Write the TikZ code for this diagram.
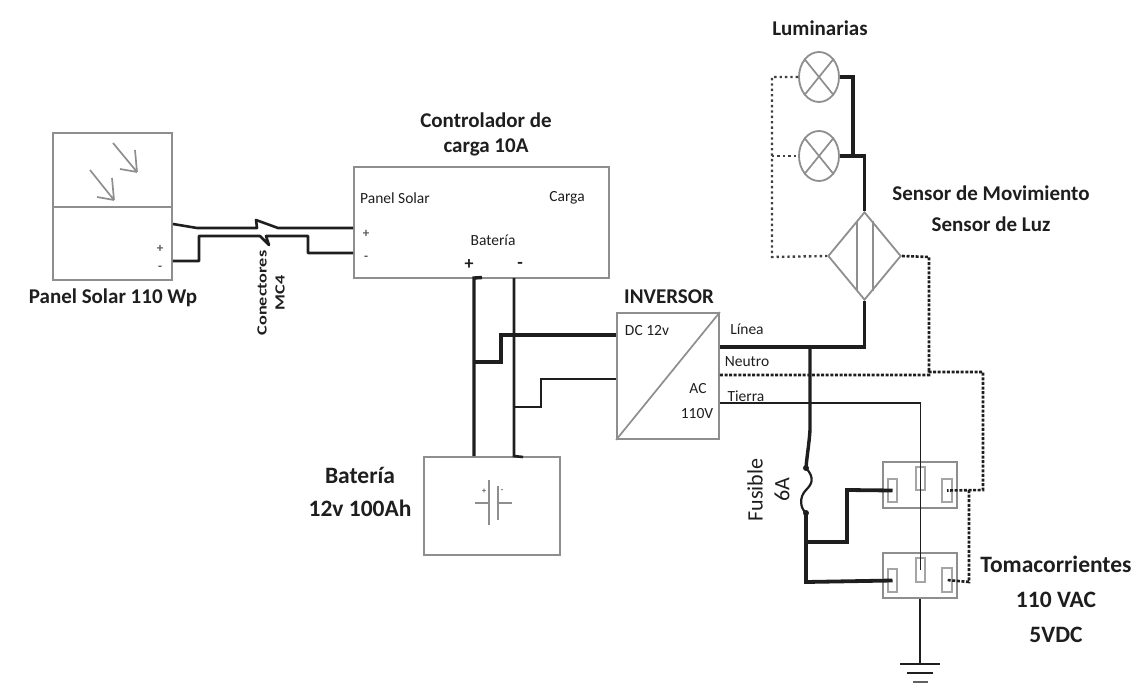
\documentclass[tikz,border=0pt]{standalone}
\usepackage{fontspec}
\usetikzlibrary{shapes.geometric}
\setmainfont{Carlito}
\definecolor{boxgray}{HTML}{8E8E8E}
\definecolor{ink}{HTML}{1E1E1E}
\tikzset{
  box/.style={draw=boxgray,line width=1.8pt,rectangle,inner sep=0pt,fill=none},
  pin/.style={draw=boxgray!80,line width=1.4pt,rectangle,inner sep=0pt},
  lamp/.style={draw=boxgray,line width=1.8pt,ellipse,inner sep=0pt,minimum width=40pt,minimum height=50pt},
  thin wire/.style={draw=ink,line width=1.9pt},
  mid wire/.style={draw=ink,line width=2.6pt},
  thick wire/.style={draw=ink,line width=3.8pt},
  dot wire/.style={draw=ink!85,line width=2.4pt,dash pattern=on 2.4pt off 3pt},
  dash wire/.style={draw=ink,line width=2.6pt,dash pattern=on 3pt off 1.6pt},
  grayline/.style={draw=boxgray,line width=1.7pt},
  title/.style={font=\bfseries\fontsize{21}{25}\selectfont,text=ink,align=center,inner sep=0pt},
  big title/.style={font=\bfseries\fontsize{23.5}{27}\selectfont,text=ink,align=center,inner sep=0pt},
  small/.style={font=\fontsize{15.5}{18}\selectfont,text=ink,inner sep=0pt,align=center},
  tiny/.style={font=\bfseries\fontsize{13}{15}\selectfont,text=ink!75,inner sep=0pt},
}
\begin{document}
\begin{tikzpicture}[x=1pt,y=-1pt]
\useasboundingbox (0,0) rectangle (1140,695);
% boxes
\node[box,minimum width=119pt,minimum height=147pt] (panel) at (112.5,206.5) {};
\coordinate (panelL) at (panel.west |- 0,207);
\draw[grayline,line width=1.8pt] (panelL) -- (panelL -| panel.east);
\node[box,minimum width=255pt,minimum height=111pt] (ctrl) at (481.5,222.5) {};
\node[box,minimum width=102pt,minimum height=126pt] (inv) at (668,376) {};
\draw[grayline] (inv.south west) -- (inv.north east);
\node[box,minimum width=136pt,minimum height=98pt] (bat) at (492,506) {};
\node[lamp] (lampa) at (819,77) {};
\node[lamp] (lampb) at (819,156) {};
\foreach \n in {lampa,lampb}{
  \draw[grayline] (\n.north west) -- (\n.south east);
  \draw[grayline] (\n.north east) -- (\n.south west);
}
\node[draw=boxgray,line width=1.8pt,diamond,inner sep=0pt,minimum width=73pt,minimum height=88pt] (sensor) at (864.5,256) {};
\coordinate (sa) at (857,221); \coordinate (sb) at (857,291);
\coordinate (sc) at (873,221); \coordinate (sd) at (873,291);
\draw[grayline] (sa) -- (sb); \draw[grayline] (sc) -- (sd);
\node[box,minimum width=74pt,minimum height=46pt] (sockA) at (920,485) {};
\node[box,minimum width=74pt,minimum height=45pt] (sockB) at (920,575.5) {};
\node[pin,minimum width=9pt,minimum height=23pt] (aL) at (892.5,490.5) {};
\node[pin,minimum width=9pt,minimum height=23pt] (aC) at (920.5,478.5) {};
\node[pin,minimum width=10pt,minimum height=23pt] (aR) at (947,490.5) {};
\node[pin,minimum width=9pt,minimum height=23pt] (bL) at (892.5,580.5) {};
\node[pin,minimum width=9pt,minimum height=24pt] (bC) at (920.5,570) {};
\node[pin,minimum width=10pt,minimum height=24pt] (bR) at (947,580) {};
% panel arrows
\coordinate (r1a) at (113,143); \coordinate (r1b) at (137,172);
\coordinate (r2a) at (90,170); \coordinate (r2b) at (114,200);
\draw[grayline] (r1a) -- (r1b) (r1b) -- (135,150) (r1b) -- (120,169);
\draw[grayline] (r2a) -- (r2b) (r2b) -- (112,178) (r2b) -- (97,197);
% battery symbol
\coordinate (bp1) at (489,480); \coordinate (bp2) at (489,525);
\coordinate (bq1) at (498,486); \coordinate (bq2) at (498,520);
\coordinate (bw1) at (475,503); \coordinate (bw2) at (512,503);
\draw[grayline,line width=1.5pt] (bp1) -- (bp2) (bq1) -- (bq2) (bw1) -- (bp1 |- bw1) (bq1 |- bw2) -- (bw2);
% PV wiring
\coordinate (pvA) at (panel.east |- 0,224);
\coordinate (pvB) at (panel.east |- 0,261);
\coordinate (ctA) at (ctrl.west |- 0,228);
\coordinate (ctB) at (ctrl.west |- 0,253);
\draw[mid wire,line join=round] (pvA) -- (197,228) -- (257,228) -- (256,220) -- (278,228) -- (ctA);
\draw[mid wire,line join=round] (pvB) -- (199,261) -- (199,236) -- (260,236) -- (269,245) -- (266,236) -- (308,236) -- (308,253) -- (ctB);
% battery wiring
\coordinate (cp) at (474,278); \coordinate (cm) at (514,278);
\draw[thick wire,line width=3.4pt] (482,277.5) -- (cp) -- (cp |- bat.north);
\draw[mid wire] (cm) -- (cm |- bat.north) -- (523,457);
\coordinate (ivA) at (inv.west |- 0,335);
\coordinate (ivB) at (inv.west |- 0,379);
\draw[thick wire,line width=3.4pt] (474,362) -- (501,362) -- (501,335) -- (ivA);
\draw[mid wire] (514,407) -- (541,407) -- (541,379) -- (ivB);
% AC side
\coordinate (oL) at (inv.east |- 0,347);
\coordinate (oN) at (inv.east |- 0,375);
\coordinate (oT) at (inv.east |- 0,403);
\coordinate (jL) at (810,347);
\draw[thick wire] (oL) -- (sensor.south |- oL) -- (sensor.south);
\draw[thick wire] (sensor.north) -- (sensor.north |- lampb.east) -- (lampb.east);
\draw[thick wire] (853,156) -- (853,77) -- (lampa.east);
% fuse
\coordinate (fa) at (806,468); \coordinate (fb) at (806,513);
\draw[thick wire,line width=3.4pt] (jL) -- (810,430) .. controls (809,445) and (807,455) .. (fa);
\draw[draw=ink,line width=2.2pt] (fa) .. controls (815,478) and (812,484) .. (806,490) .. controls (799,497) and (800,508) .. (fb);
\fill[ink] (fa) circle (3pt) (fb) circle (3pt);
\draw[thick wire] (fb) -- (806,582) -- (bL.center);
\draw[thick wire] (806,542) -- (847,542) -- (847,490) -- (aL.center);
% neutral
\draw[dash wire] (oN) -- (929,375) -- (929,372) -- (983,372) -- (983,490) -- (aR.center);
\draw[dash wire] (969,490) -- (969,582) -- (bR.center);
\draw[dash wire] (sensor.east) -- (929,257) -- (929,372);
% dotted returns
\draw[dot wire] (lampa.west) -- (772,77) -- (772,257) -- (sensor.west);
\draw[dot wire] (772,156) -- (lampb.west);
% earth
\coordinate (gt) at (920,664);
\coordinate (g1a) at (900,664); \coordinate (g1b) at (940,664);
\coordinate (g2a) at (907,673); \coordinate (g2b) at (933,673);
\coordinate (g3a) at (913,682); \coordinate (g3b) at (928,682);
\draw[thin wire] (oT) -- (aC.north |- oT) -- (bC.center);
\draw[mid wire] (sockB.south -| gt) -- (gt);
\draw[mid wire] (g1a) -- (g1b);
\draw[mid wire,line width=2.8pt] (g2a) -- (g2b);
\draw[mid wire,draw=ink!70] (g3a) -- (g3b);
% text
\node[title] (tpanel) at (113,298) {Panel Solar 110 Wp};
\node[title] (tctrl) at (486,134) {Controlador de\\carga 10A};
\node[title] (tinv) at (669,297) {INVERSOR};
\node[title] (tlum) at (820,28) {Luminarias};
\node[title] (tsens) at (991,209) {Sensor de Movimiento\\[6pt]Sensor de Luz};
\node[big title] (tbat) at (360,492) {Batería\\[6pt]12v 100Ah};
\node[big title] (ttoma) at (1056,599) {Tomacorrientes\\[8pt]110 VAC\\[8pt]5VDC};
\node[title,font=\fontsize{22}{25}\selectfont,rotate=90] (tfus) at (755,490) {Fusible};
\node[title,font=\fontsize{22}{25}\selectfont,rotate=90] (tfa) at (782,490) {6A};
\node[small,font=\bfseries\fontsize{14}{18}\selectfont,rotate=90] (tmc) at (271,293) {\scalebox{1.3}[1]{Conectores}\\\scalebox{1.3}[1]{MC4}};
\node[small] (tps) at (395,198) {Panel Solar};
\node[small] (tcg) at (567,198) {Carga};
\node[small] (tbt) at (493,240) {Batería};
\node[small] (tdc) at (647,331) {DC 12v};
\node[small] (tac) at (698,389) {AC};
\node[small] (t110) at (697,414) {110V};
\node[small] (tli) at (747,329) {Línea};
\node[small] (tne) at (747,362) {Neutro};
\node[small] (tti) at (746,396) {Tierra};
\node[tiny,font=\bfseries\fontsize{18}{18}\selectfont,text=ink] (pplus) at (469,265) {+};
\node[tiny,font=\bfseries\fontsize{18}{18}\selectfont,text=ink] (pminus) at (520,265) {-};
\node[tiny] (cplus) at (366,234) {+};
\node[tiny] (cminus) at (366,258) {-};
\node[tiny] (vplus) at (160,249) {+};
\node[tiny] (vminus) at (160,268) {-};
\node[tiny,font=\bfseries\fontsize{8}{8}\selectfont] (bplus) at (484,491) {+};
\node[tiny,font=\bfseries\fontsize{8}{8}\selectfont] (bminus) at (502,491) {-};
\end{tikzpicture}
\end{document}
